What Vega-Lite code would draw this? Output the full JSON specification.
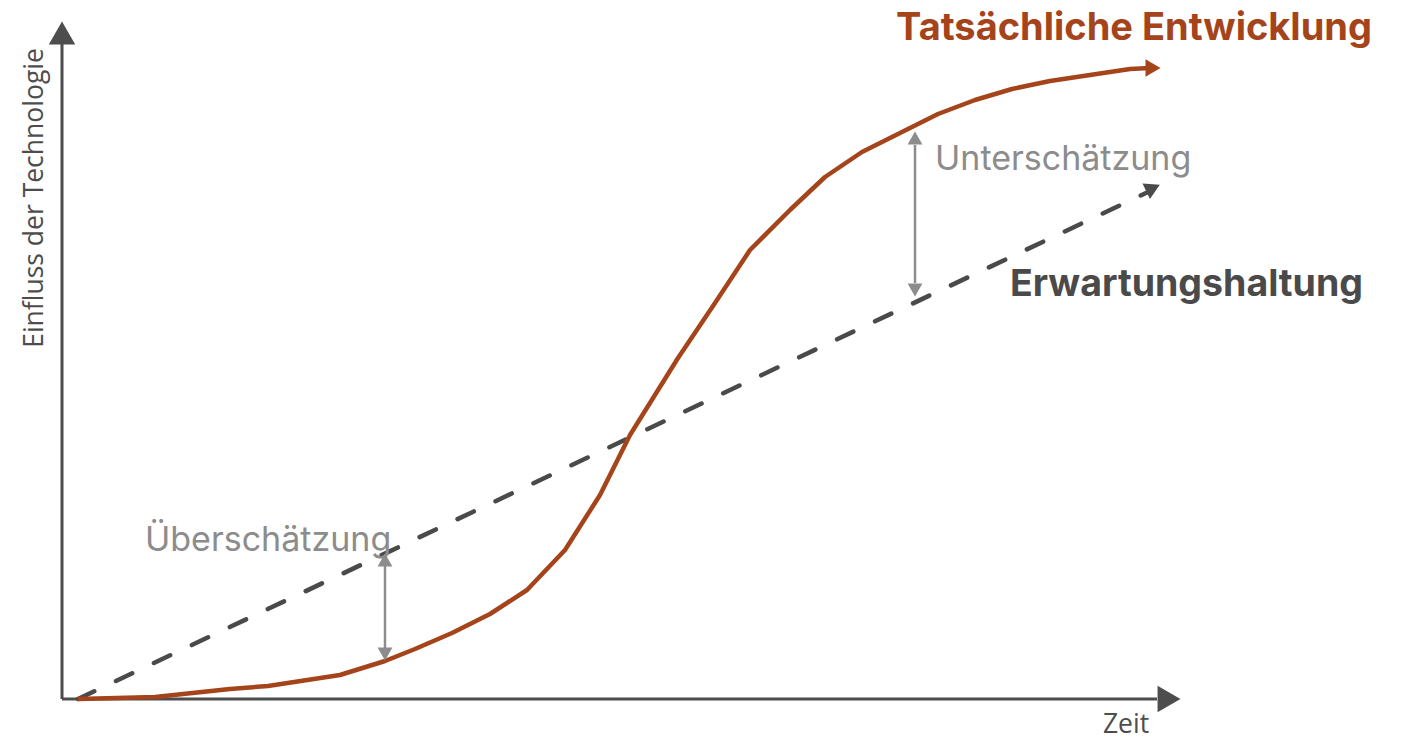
{
  "$schema": "https://vega.github.io/schema/vega-lite/v6.json",
  "width": 1405,
  "height": 741,
  "padding": 0,
  "autosize": {"type": "fit", "contains": "padding"},
  "background": "white",
  "config": {"view": {"stroke": null}},
  "datasets": {
    "axes": [
      {"x": 0, "y": 0, "x2": 0, "y2": 656},
      {"x": 0, "y": 0, "x2": 1095, "y2": 0}
    ],
    "axisheadUp": [{"x": 0, "y": 666}],
    "axisheadRight": [{"x": 1107, "y": 0}],
    "actual": [
      {"x": 16, "y": 0}, {"x": 93, "y": 2}, {"x": 168, "y": 10}, {"x": 206, "y": 13},
      {"x": 278, "y": 24}, {"x": 323, "y": 38}, {"x": 353, "y": 50}, {"x": 390, "y": 66},
      {"x": 428, "y": 85}, {"x": 465, "y": 109}, {"x": 503, "y": 149}, {"x": 538, "y": 204},
      {"x": 568, "y": 264}, {"x": 616, "y": 341}, {"x": 653, "y": 396}, {"x": 688, "y": 449},
      {"x": 728, "y": 489}, {"x": 763, "y": 522}, {"x": 800, "y": 547}, {"x": 838, "y": 566},
      {"x": 876, "y": 585}, {"x": 913, "y": 599}, {"x": 950, "y": 610}, {"x": 988, "y": 618},
      {"x": 1028, "y": 624}, {"x": 1068, "y": 630}, {"x": 1088, "y": 631}
    ],
    "actualHead": [{"x": 1091, "y": 631}],
    "expected": [{"x": 16, "y": 0}, {"x": 1086, "y": 507}],
    "expectedHead": [{"x": 1091, "y": 511}],
    "gaps": [
      {"x": 323, "y": 51, "x2": 323, "y2": 133},
      {"x": 853, "y": 416, "x2": 853, "y2": 554}
    ],
    "gapHeadUp": [{"x": 323, "y": 139}, {"x": 853, "y": 561}],
    "gapHeadDown": [{"x": 323, "y": 45}, {"x": 853, "y": 409}],
    "titleActual": [{"x": 1310, "y": 670, "label": "Tatsächliche Entwicklung"}],
    "titleExpected": [{"x": 948, "y": 414, "label": "Erwartungshaltung"}],
    "gapLabels": [
      {"x": 873, "y": 539, "label": "Unterschätzung"},
      {"x": 83, "y": 158, "label": "Überschätzung"}
    ],
    "yTitle": [{"x": -27, "y": 501, "label": "Einfluss der Technologie"}],
    "xTitle": [{"x": 1064, "y": -26, "label": "Zeit"}]
  },
  "encoding": {
    "x": {"field": "x", "type": "quantitative", "scale": {"domain": [-62, 1343], "nice": false, "zero": false}, "axis": null},
    "y": {"field": "y", "type": "quantitative", "scale": {"domain": [-42, 699], "nice": false, "zero": false}, "axis": null}
  },
  "layer": [
    {
      "data": {"name": "axes"},
      "mark": {"type": "rule", "color": "#4d4d4d", "strokeWidth": 3},
      "encoding": {"x2": {"field": "x2"}, "y2": {"field": "y2"}}
    },
    {
      "data": {"name": "axisheadUp"},
      "mark": {"type": "point", "shape": "triangle-up", "filled": true, "color": "#4d4d4d", "size": 700, "opacity": 1}
    },
    {
      "data": {"name": "axisheadRight"},
      "mark": {"type": "point", "shape": "triangle-right", "filled": true, "color": "#4d4d4d", "size": 700, "opacity": 1}
    },
    {
      "data": {"name": "expected"},
      "mark": {"type": "line", "color": "#4a4a4a", "strokeWidth": 4.5, "strokeDash": [18, 24], "strokeCap": "round"}
    },
    {
      "data": {"name": "expectedHead"},
      "mark": {"type": "point", "shape": "triangle-up", "filled": true, "color": "#4a4a4a", "size": 300, "opacity": 1, "angle": 64.6}
    },
    {
      "data": {"name": "actual"},
      "mark": {"type": "line", "color": "#A5441A", "strokeWidth": 4.5, "strokeJoin": "round"}
    },
    {
      "data": {"name": "actualHead"},
      "mark": {"type": "point", "shape": "triangle-right", "filled": true, "color": "#A5441A", "size": 300, "opacity": 1}
    },
    {
      "data": {"name": "gaps"},
      "mark": {"type": "rule", "color": "#8c8c8c", "strokeWidth": 2.5},
      "encoding": {"x2": {"field": "x2"}, "y2": {"field": "y2"}}
    },
    {
      "data": {"name": "gapHeadUp"},
      "mark": {"type": "point", "shape": "triangle-up", "filled": true, "color": "#8c8c8c", "size": 220, "opacity": 1}
    },
    {
      "data": {"name": "gapHeadDown"},
      "mark": {"type": "point", "shape": "triangle-down", "filled": true, "color": "#8c8c8c", "size": 220, "opacity": 1}
    },
    {
      "data": {"name": "titleActual"},
      "mark": {"type": "text", "align": "right", "baseline": "middle", "font": "Inter", "fontWeight": "bold", "fontSize": 38, "color": "#A5441A"},
      "encoding": {"text": {"field": "label"}}
    },
    {
      "data": {"name": "titleExpected"},
      "mark": {"type": "text", "align": "left", "baseline": "middle", "font": "Inter", "fontWeight": "bold", "fontSize": 37.5, "color": "#4a4a4a"},
      "encoding": {"text": {"field": "label"}}
    },
    {
      "data": {"name": "gapLabels"},
      "mark": {"type": "text", "align": "left", "baseline": "middle", "font": "Inter", "fontSize": 34, "color": "#8c8c8c"},
      "encoding": {"text": {"field": "label"}}
    },
    {
      "data": {"name": "yTitle"},
      "mark": {"type": "text", "align": "center", "baseline": "middle", "angle": 270, "font": "Open Sans", "fontSize": 26.5, "color": "#4d4d4d"},
      "encoding": {"text": {"field": "label"}}
    },
    {
      "data": {"name": "xTitle"},
      "mark": {"type": "text", "align": "center", "baseline": "middle", "font": "Open Sans", "fontSize": 26.5, "color": "#4d4d4d"},
      "encoding": {"text": {"field": "label"}}
    }
  ]
}
